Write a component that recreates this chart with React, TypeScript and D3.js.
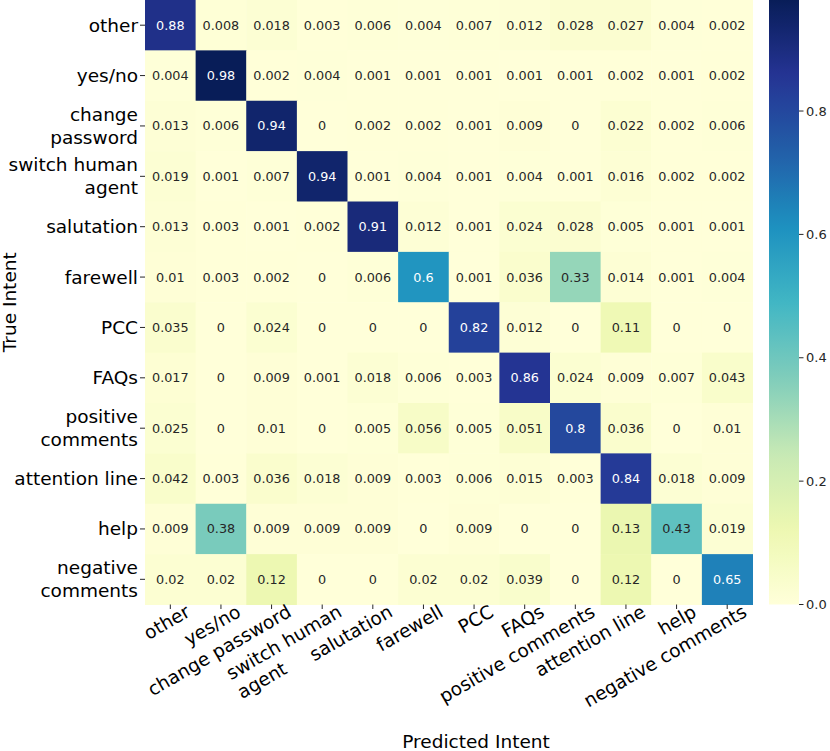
import React from "react";
import * as d3 from "d3";

const xLabels = [
  "other", "yes/no", "change password", "switch human\nagent", "salutation", "farewell",
  "PCC", "FAQs", "positive comments", "attention line", "help", "negative comments",
];
const yLabels = [
  "other", "yes/no", "change\npassword", "switch human\nagent", "salutation", "farewell",
  "PCC", "FAQs", "positive\ncomments", "attention line", "help", "negative\ncomments",
];

const rowOther = [0.88, 0.008, 0.018, 0.003, 0.006, 0.004, 0.007, 0.012, 0.028, 0.027, 0.004, 0.002];
const rowYesNo = [0.004, 0.98, 0.002, 0.004, 0.001, 0.001, 0.001, 0.001, 0.001, 0.002, 0.001, 0.002];
const rowChangePw = [0.013, 0.006, 0.94, 0, 0.002, 0.002, 0.001, 0.009, 0, 0.022, 0.002, 0.006];
const rowSwitch = [0.019, 0.001, 0.007, 0.94, 0.001, 0.004, 0.001, 0.004, 0.001, 0.016, 0.002, 0.002];
const rowSalutation = [0.013, 0.003, 0.001, 0.002, 0.91, 0.012, 0.001, 0.024, 0.028, 0.005, 0.001, 0.001];
const rowFarewell = [0.01, 0.003, 0.002, 0, 0.006, 0.6, 0.001, 0.036, 0.33, 0.014, 0.001, 0.004];
const rowPCC = [0.035, 0, 0.024, 0, 0, 0, 0.82, 0.012, 0, 0.11, 0, 0];
const rowFAQs = [0.017, 0, 0.009, 0.001, 0.018, 0.006, 0.003, 0.86, 0.024, 0.009, 0.007, 0.043];
const rowPositive = [0.025, 0, 0.01, 0, 0.005, 0.056, 0.005, 0.051, 0.8, 0.036, 0, 0.01];
const rowAttention = [0.042, 0.003, 0.036, 0.018, 0.009, 0.003, 0.006, 0.015, 0.003, 0.84, 0.018, 0.009];
const rowHelp = [0.009, 0.38, 0.009, 0.009, 0.009, 0, 0.009, 0, 0, 0.13, 0.43, 0.019];
const rowNegative = [0.02, 0.02, 0.12, 0, 0, 0.02, 0.02, 0.039, 0, 0.12, 0, 0.65];

const matrix = [
  rowOther, rowYesNo, rowChangePw, rowSwitch, rowSalutation, rowFarewell,
  rowPCC, rowFAQs, rowPositive, rowAttention, rowHelp, rowNegative,
];

const colorbarTicks = [0, 0.2, 0.4, 0.6, 0.8];

const W = 830;
const H = 751;
const FONT = '"DejaVu Sans", Verdana, sans-serif';
const LABEL_SIZE = 18.5;
const ANNOT_SIZE = 12.8;

const mLeft = 145;
const mRight = 752.5;
const mTop = 0;
const mBottom = 604.5;
const cbLeft = 769;
const cbRight = 799;

function luminance(c: string) {
  const rgb = d3.rgb(c);
  const f = (v: number) => {
    const s = v / 255;
    return s <= 0.03928 ? s / 12.92 : Math.pow((s + 0.055) / 1.055, 2.4);
  };
  return 0.2126 * f(rgb.r) + 0.7152 * f(rgb.g) + 0.0722 * f(rgb.b);
}

let measureCtx: CanvasRenderingContext2D | null = null;
function measure(text: string, size: number) {
  if (!measureCtx) {
    const c = document.createElement("canvas");
    measureCtx = c.getContext("2d");
  }
  if (!measureCtx) return text.length * size * 0.6;
  measureCtx.font = `${size}px "DejaVu Sans"`;
  return measureCtx.measureText(text).width;
}

export default function App() {
  const idx = d3.range(matrix.length);
  const x = d3.scaleBand<number>().domain(idx).range([mLeft, mRight]);
  const y = d3.scaleBand<number>().domain(idx).range([mTop, mBottom]);
  const vmax = d3.max(matrix.flat()) as number;
  const color = d3
    .scaleSequential(d3.piecewise(d3.interpolateRgb, d3.schemeYlGnBu[9] as string[]))
    .domain([0, vmax]);
  const cbScale = d3.scaleLinear().domain([0, vmax]).range([mBottom, mTop]);

  const gradStops = d3.range(0, 1.0001, 0.02);

  const lineH = 23;
  const rot = -30;

  return (
    <svg
      width={W}
      height={H}
      style={{ position: "absolute", left: 0, top: 0, background: "#fff" }}
      fontFamily={FONT}
    >
      <defs>
        <linearGradient id="cbgrad" x1="0" y1="1" x2="0" y2="0">
          {gradStops.map((t) => (
            <stop key={t} offset={t} stopColor={color(t * vmax)} />
          ))}
        </linearGradient>
      </defs>

      {/* cells */}
      {matrix.map((row, i) =>
        row.map((v, j) => {
          const fill = color(v);
          const txt = luminance(fill) > 0.408 ? "#262626" : "#ffffff";
          return (
            <g key={`${i}-${j}`}>
              <rect
                x={x(j)}
                y={y(i)}
                width={x.bandwidth() + 0.5}
                height={y.bandwidth() + 0.5}
                fill={fill}
              />
              <text
                x={(x(j) as number) + x.bandwidth() / 2}
                y={(y(i) as number) + y.bandwidth() / 2}
                textAnchor="middle"
                dominantBaseline="central"
                fontSize={ANNOT_SIZE}
                fill={txt}
              >
                {String(v)}
              </text>
            </g>
          );
        })
      )}

      {/* y ticks */}
      {yLabels.map((lab, i) => {
        const cy = (y(i) as number) + y.bandwidth() / 2;
        const lines = lab.split("\n");
        const off = ((lines.length - 1) * lineH) / 2;
        return (
          <g key={`yl-${i}`}>
            <line x1={mLeft - 5} x2={mLeft} y1={cy} y2={cy} stroke="#262626" strokeWidth={1} />
            {lines.map((ln, k) => (
              <text
                key={k}
                x={mLeft - 7}
                y={cy - off + k * lineH}
                textAnchor="end"
                dominantBaseline="central"
                fontSize={LABEL_SIZE}
                fill="#000"
              >
                {ln}
              </text>
            ))}
          </g>
        );
      })}

      {/* x ticks */}
      {xLabels.map((lab, j) => {
        const cx = (x(j) as number) + x.bandwidth() / 2;
        const lines = lab.split("\n");
        const w1 = measure(lines[0], LABEL_SIZE);
        return (
          <g key={`xl-${j}`}>
            <line x1={cx} x2={cx} y1={mBottom} y2={mBottom + 4.5} stroke="#262626" strokeWidth={1} />
            <g transform={`translate(${cx + 21},${mBottom + 11}) rotate(${rot})`}>
              <text x={0} y={0} textAnchor="end" fontSize={LABEL_SIZE} fill="#000">
                {lines[0]}
              </text>
              {lines.slice(1).map((ln, k) => (
                <text
                  key={k}
                  x={-w1}
                  y={(k + 1) * 22}
                  textAnchor="start"
                  fontSize={LABEL_SIZE}
                  fill="#000"
                >
                  {ln}
                </text>
              ))}
            </g>
          </g>
        );
      })}

      {/* axis titles */}
      <text x={476} y={748} textAnchor="middle" fontSize={LABEL_SIZE} fill="#000">
        Predicted Intent
      </text>
      <text
        transform={`translate(15.5,${(mTop + mBottom) / 2}) rotate(-90)`}
        textAnchor="middle"
        fontSize={LABEL_SIZE}
        fill="#000"
      >
        True Intent
      </text>

      {/* colorbar */}
      <rect x={cbLeft} y={mTop} width={cbRight - cbLeft} height={mBottom - mTop} fill="url(#cbgrad)" />
      {colorbarTicks.map((t) => (
        <g key={`cb-${t}`}>
          <line x1={cbRight} x2={cbRight + 4.5} y1={cbScale(t)} y2={cbScale(t)} stroke="#262626" strokeWidth={1} />
          <text
            x={cbRight + 7}
            y={cbScale(t)}
            dominantBaseline="central"
            fontSize={13}
            fill="#262626"
          >
            {t.toFixed(1)}
          </text>
        </g>
      ))}
    </svg>
  );
}
